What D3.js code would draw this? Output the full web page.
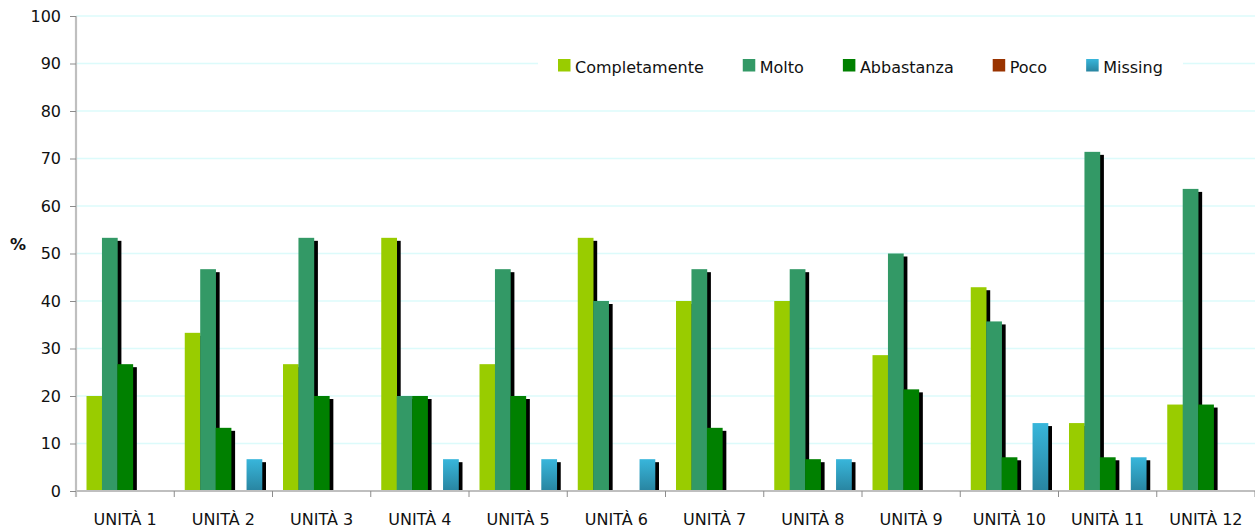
<!DOCTYPE html>
<html>
<head>
<meta charset="utf-8">
<script src="https://cdn.jsdelivr.net/npm/d3@7"></script>
<style>
html,body{margin:0;padding:0;background:#fff;}
svg{display:block;font-family:"DejaVu Sans",sans-serif;}
</style>
</head>
<body>
<svg id="chart" width="1255" height="532"></svg>
<script>
const categories = ["UNITÀ 1","UNITÀ 2","UNITÀ 3","UNITÀ 4","UNITÀ 5","UNITÀ 6","UNITÀ 7","UNITÀ 8","UNITÀ 9","UNITÀ 10","UNITÀ 11","UNITÀ 12"];
const seriesNames = ["Completamente","Molto","Abbastanza","Poco","Missing"];
const completamente = [20, 33.3, 26.7, 53.3, 26.7, 53.3, 40, 40, 28.6, 42.9, 14.3, 18.2];
const molto         = [53.3, 46.7, 53.3, 20, 46.7, 40, 46.7, 46.7, 50, 35.7, 71.4, 63.6];
const abbastanza    = [26.7, 13.3, 20, 20, 20, 0, 13.3, 6.7, 21.4, 7.1, 7.1, 18.2];
const poco          = [0, 0, 0, 0, 0, 0, 0, 0, 0, 0, 0, 0];
const missing       = [0, 6.7, 0, 6.7, 6.7, 6.7, 0, 6.7, 0, 14.3, 7.1, 0];
const yTicks = [0,10,20,30,40,50,60,70,80,90,100];
const colors = ["#99cc00","#339966","#008000","#993300","url(#missGrad)"];
const legendColors = ["#99cc00","#339966","#008000","#993300","url(#missGradL)"];

const seriesValues = [completamente, molto, abbastanza, poco, missing];

const svg = d3.select("#chart");
const mLeft = 76, mRight = 1255, mTop = 16, mBottom = 491;

const defs = svg.append("defs");
["missGrad","missGradL"].forEach(id => {
  const g = defs.append("linearGradient").attr("id", id).attr("x1",0).attr("y1",0).attr("x2",0).attr("y2",1);
  g.append("stop").attr("offset","0%").attr("stop-color","#38b6db");
  g.append("stop").attr("offset","100%").attr("stop-color","#2884a0");
});

const x0 = d3.scaleBand().domain(categories).range([mLeft, mRight]).padding(0);
const x1 = d3.scaleBand().domain(seriesNames).range([0, x0.bandwidth()]).paddingInner(0).paddingOuter(0.68);
const y = d3.scaleLinear().domain([0, 100]).range([mBottom, mTop]);

// gridlines
svg.append("g").selectAll("line").data(yTicks.filter(d => d > 0)).join("line")
  .attr("x1", mLeft).attr("x2", mRight)
  .attr("y1", d => y(d)).attr("y2", d => y(d))
  .attr("stroke", "#dcfbfb").attr("stroke-width", 1.5);

const rows = categories.map((c, i) => ({cat: c, vals: seriesNames.map((s, j) => ({s, j, v: seriesValues[j][i]}))}));

const groups = svg.append("g").selectAll("g").data(rows).join("g")
  .attr("transform", d => `translate(${x0(d.cat)},0)`);

// shadows
groups.selectAll("rect.sh").data(d => d.vals.filter(v => v.v > 0)).join("rect")
  .attr("class","sh")
  .attr("x", d => x1(d.s) + 4)
  .attr("y", d => y(d.v) + 3)
  .attr("width", x1.bandwidth())
  .attr("height", d => Math.max(0, y(0) - y(d.v) - 3))
  .attr("fill", "#000");

// bars
groups.selectAll("rect.bar").data(d => d.vals.filter(v => v.v > 0)).join("rect")
  .attr("class","bar")
  .attr("x", d => x1(d.s))
  .attr("y", d => y(d.v))
  .attr("width", x1.bandwidth() + 0.3)
  .attr("height", d => y(0) - y(d.v))
  .attr("fill", d => colors[d.j]);

// Y axis
const yAxis = svg.append("g").attr("transform", `translate(${mLeft},0)`)
  .call(d3.axisLeft(y).tickValues(yTicks).tickSize(6).tickPadding(9));
yAxis.select(".domain").attr("stroke", "#bfbfbf").attr("stroke-width", 2.2).attr("d", `M0,${mTop}V${mBottom+6}`);
yAxis.selectAll(".tick line").attr("stroke", "#8c8c8c");
yAxis.selectAll(".tick text").attr("font-size", 16).attr("fill", "#111").attr("font-family", "DejaVu Sans");

// X axis
const xg = svg.append("g");
xg.append("line").attr("x1", mLeft).attr("x2", mRight).attr("y1", mBottom).attr("y2", mBottom)
  .attr("stroke", "#bfbfbf").attr("stroke-width", 2.2);
const bounds = categories.map(c => x0(c)).concat([x0.range()[1]]);
xg.selectAll("line.tk").data(bounds.slice(1)).join("line").attr("class","tk")
  .attr("x1", d => d).attr("x2", d => d).attr("y1", mBottom).attr("y2", mBottom + 6)
  .attr("stroke", "#8c8c8c").attr("stroke-width", 1);
xg.selectAll("text").data(categories).join("text")
  .attr("x", d => x0(d) + x0.bandwidth() / 2)
  .attr("y", mBottom + 34)
  .attr("text-anchor", "middle")
  .attr("font-size", 16).attr("fill", "#111")
  .text(d => d);

// Y title
svg.append("text").attr("x", 18).attr("y", 250).attr("text-anchor","middle")
  .attr("font-size", 16).attr("font-weight", "bold").attr("fill", "#111").text("%");

// Legend
const lg = svg.append("g");
lg.append("rect").attr("x", 538).attr("y", 44).attr("width", 645).attr("height", 44).attr("fill", "#fff");
let lx = 558;
seriesNames.forEach((s, i) => {
  lg.append("rect").attr("x", lx).attr("y", 59).attr("width", 12.5).attr("height", 12.5).attr("fill", legendColors[i]);
  const t = lg.append("text").attr("x", lx + 17).attr("y", 72.5).attr("font-size", 16).attr("fill", "#111").text(s);
  const w = t.node().getComputedTextLength();
  lx = lx + 17 + w + 39;
});
</script>
</body>
</html>
